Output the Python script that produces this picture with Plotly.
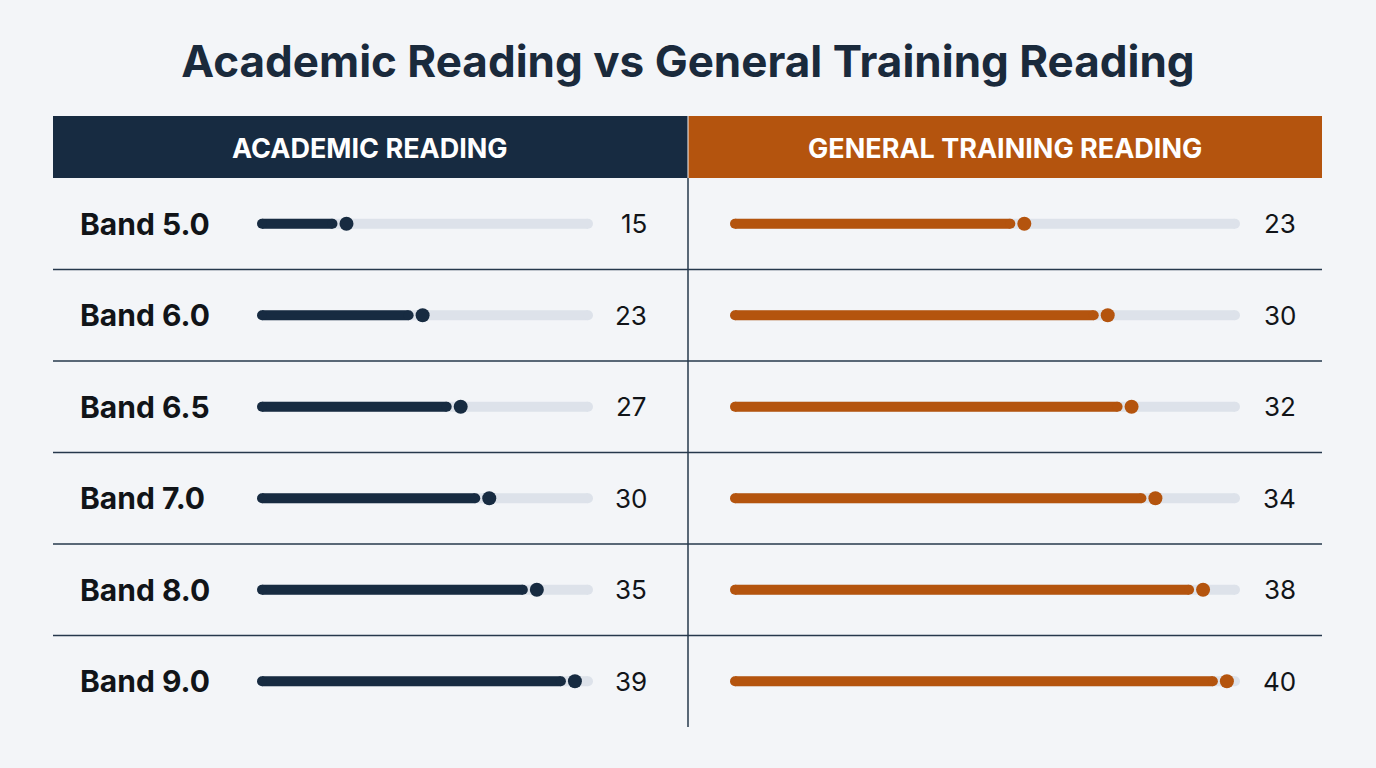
import plotly.graph_objects as go

# data
bands = ["Band 5.0", "Band 6.0", "Band 6.5", "Band 7.0", "Band 8.0", "Band 9.0"]
academic = [15, 23, 27, 30, 35, 39]
general = [23, 30, 32, 34, 38, 40]
panel_titles = ["ACADEMIC READING", "GENERAL TRAINING READING"]

W, H = 1376, 768
bg = "#f3f5f8"
navy = "#172b41"
orange = "#b4540e"
track = "#dde2ea"
rule = "#26384c"
font = "Inter"

def px(x):
    return x / W

def py(y):
    return 1 - y / H

# panel setup: track pixel span and the visible score range on it
panels = [
    dict(vals=academic, color=navy, dom=(257, 593), rng=(5.6, 40.9), xa="x", num_x=649),
    dict(vals=general, color=orange, dom=(730, 1240), rng=(-1.7, 41.1), xa="x2", num_x=1298),
]
rows = list(range(len(bands)))

fig = go.Figure()
for p in panels:
    lo, hi = p["rng"]
    per_px = (hi - lo) / (p["dom"][1] - p["dom"][0])
    gap = 14 * per_px
    # grey track with rounded ends
    tx, ty = [], []
    for r in rows:
        tx += [lo + 5 * per_px, hi - 5 * per_px, None]
        ty += [r, r, None]
    fig.add_trace(go.Scatter(x=tx, y=ty, mode="lines+markers", xaxis=p["xa"],
                             line=dict(color=track, width=10),
                             marker=dict(size=10, color=track), hoverinfo="skip"))
    # filled bar stopping short of the dot
    bx, by = [], []
    for r, v in zip(rows, p["vals"]):
        bx += [lo + 5 * per_px, v - gap, None]
        by += [r, r, None]
    fig.add_trace(go.Scatter(x=bx, y=by, mode="lines+markers", xaxis=p["xa"],
                             line=dict(color=p["color"], width=10),
                             marker=dict(size=10, color=p["color"]), hoverinfo="skip"))
    fig.add_trace(go.Scatter(x=p["vals"], y=rows, mode="markers", xaxis=p["xa"],
                             marker=dict(size=14, color=p["color"]),
                             hovertemplate="%{x}<extra></extra>"))

ann = []
shapes = []
# headers
heads = [(53, 687.5, navy), (688.5, 1322, orange)]
for (x0, x1, c), t in zip(heads, panel_titles):
    shapes.append(dict(type="rect", xref="paper", yref="paper", x0=px(x0), x1=px(x1),
                       y0=py(178), y1=py(116), fillcolor=c, line_width=0, layer="below"))
    ann.append(dict(text="<b>" + t + "</b>", xref="paper", yref="paper",
                    x=px((x0 + x1) / 2), y=py(148), xanchor="center", yanchor="middle",
                    showarrow=False, font=dict(family=font, size=27, color="white")))

# row separators and the divider
for r in rows[:-1]:
    shapes.append(dict(type="line", xref="paper", yref="y", x0=px(53), x1=px(1322),
                       y0=r + 0.5, y1=r + 0.5, line=dict(color=rule, width=1.5)))
shapes.append(dict(type="line", xref="paper", yref="paper", x0=px(688), x1=px(688),
                   y0=py(178), y1=py(727), line=dict(color=rule, width=1.5)))

for r, b in zip(rows, bands):
    ann.append(dict(text="<b>" + b + "</b>", xref="paper", yref="y", x=px(78), y=r,
                    xanchor="left", yanchor="middle", showarrow=False,
                    font=dict(family=font, size=30, color="#111418")))
for p in panels:
    for r, v in zip(rows, p["vals"]):
        ann.append(dict(text=str(v), xref="paper", yref="y", x=px(p["num_x"]), y=r,
                        xanchor="right", yanchor="middle", showarrow=False,
                        font=dict(family=font, size=26, color="#111418")))

fig.update_layout(
    width=W, height=H, margin=dict(l=0, r=0, t=0, b=0),
    paper_bgcolor=bg, plot_bgcolor="rgba(0,0,0,0)", showlegend=False,
    title=dict(text="<b>Academic Reading vs General Training Reading</b>",
               x=0.5, xanchor="center", y=py(62), yanchor="middle",
               font=dict(family=font, size=44, color="#1a2a3c")),
    xaxis=dict(domain=[px(257), px(593)], range=list(panels[0]["rng"]), visible=False, fixedrange=True),
    xaxis2=dict(domain=[px(730), px(1240)], range=list(panels[1]["rng"]), visible=False, fixedrange=True),
    yaxis=dict(domain=[py(727), py(178)], range=[len(bands) - 0.5, -0.5], visible=False, fixedrange=True),
    shapes=shapes, annotations=ann,
)
# drop the browser's default page margin so the figure sits flush in the window
fig.write_html("out.html", config={"displayModeBar": False},
               post_script="document.body.style.margin='0';document.body.style.background='%s';" % bg)
